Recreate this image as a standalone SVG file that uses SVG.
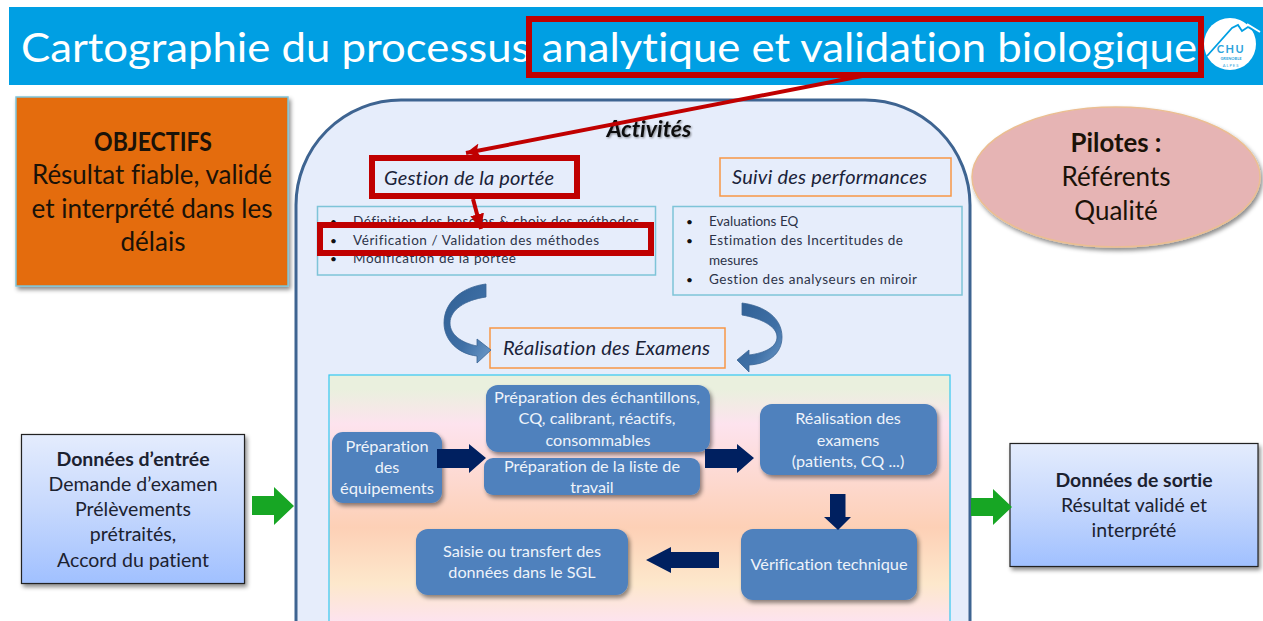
<svg xmlns="http://www.w3.org/2000/svg" width="1263" height="621" viewBox="0 0 1263 621">
<style>
text{font-family:"Lato","Carlito","Open Sans",sans-serif;fill:#111;font-variant-ligatures:none}
.title{font-size:41.500px;fill:#fff}
.big{font-size:26px;text-anchor:middle;fill:#1a1208}
.mid{font-size:19.500px;text-anchor:middle;fill:#1c2230}
.it{font-size:20px;font-style:italic;fill:#1a2238}
.li{font-size:13.500px;fill:#2c3348}
.bu{font-size:12px;fill:#111}
.wh{font-size:16.200px;text-anchor:middle;fill:#eef3fa}
.blue{fill:#4F81BD;filter:url(#sh)}
.navy{fill:#002060}
.green{fill:#17A624}
.org{fill:#E6EDFB;stroke:#F79646;stroke-width:1.5}
.cy{fill:#E6EDFB;stroke:#7EC4D8;stroke-width:1.5}
.red{fill:none;stroke:#C00000;stroke-width:6}
.curve{fill:url(#cv);stroke:#3A6494;stroke-width:.8}
.ln{stroke:#C00000;stroke-width:4;fill:none}
</style>
<defs>
<filter id="sh" x="-10%" y="-10%" width="125%" height="130%"><feDropShadow dx="2" dy="3" stdDeviation="2" flood-color="#000" flood-opacity=".45"/></filter>
<filter id="ts" x="-10%" y="-20%" width="120%" height="150%"><feDropShadow dx="1" dy="1" stdDeviation="1" flood-color="#000" flood-opacity=".45"/></filter>
<linearGradient id="box" x1="0" y1="0" x2="0" y2="1"><stop offset="0" stop-color="#E4ECFD"/><stop offset=".5" stop-color="#C6D8FD"/><stop offset="1" stop-color="#A0C0FF"/></linearGradient>
<linearGradient id="cv" x1="0" y1="0" x2="1" y2="1"><stop offset="0" stop-color="#2F5F94"/><stop offset=".6" stop-color="#3F70A6"/><stop offset="1" stop-color="#6F9CCB"/></linearGradient>
<linearGradient id="panel" x1="0" y1="375" x2="0" y2="621" gradientUnits="userSpaceOnUse"><stop offset="0" stop-color="#EAF0DE"/><stop offset=".06" stop-color="#EAF0DE"/><stop offset=".2" stop-color="#FDE3EE"/><stop offset=".62" stop-color="#FDD0B6"/><stop offset=".85" stop-color="#FDE8CC"/><stop offset="1" stop-color="#FDE3EE"/></linearGradient>
<marker id="hd" markerUnits="userSpaceOnUse" markerWidth="16" markerHeight="16" refX="14" refY="7" orient="auto"><path d="M0 0L14 7L0 14L3 7Z" fill="#C00000"/></marker>
<marker id="hd2" markerUnits="userSpaceOnUse" markerWidth="18" markerHeight="16" refX="15" refY="7" orient="auto"><path d="M0 0L15 7L0 14Z" fill="#C00000"/></marker>
</defs>

<g id="header">
<rect x="9" y="7" width="1254" height="78" fill="#009FE3"/>
<text class="title" x="21" y="62" textLength="1176" lengthAdjust="spacingAndGlyphs">Cartographie du processus analytique et validation biologique</text>
</g>
<g id="logo">
<circle cx="1230" cy="44" r="26" fill="#fff"/>
<path d="M1207 56L1232 28L1238 25L1242 31L1248 27L1258 33" fill="none" stroke="#009FE3" stroke-width="1.8"/>
<path d="M1247 24L1260 32" fill="none" stroke="#fff" stroke-width="2"/>
<text x="1231" y="53" font-size="11" font-weight="700" letter-spacing="1.5" text-anchor="middle" style="fill:#2CA3DC">CHU</text>
<text x="1231" y="60" font-size="4" font-weight="700" text-anchor="middle" style="fill:#2CA3DC">GRENOBLE</text>
<text x="1231" y="67" font-size="4" letter-spacing="1" text-anchor="middle" style="fill:#2CA3DC">ALPES</text>
</g>

<g id="objectifs">
<rect x="16" y="97" width="272" height="189" fill="#E46C0A" stroke="#7EC4D8" stroke-width="1.5" filter="url(#sh)"/>
<text class="big" x="153" y="151" font-weight="700" textLength="118" lengthAdjust="spacingAndGlyphs">OBJECTIFS</text>
<text class="big" x="152" y="184" textLength="240" lengthAdjust="spacingAndGlyphs">Résultat fiable, validé</text>
<text class="big" x="152" y="218" textLength="241" lengthAdjust="spacingAndGlyphs">et interprété dans les</text>
<text class="big" x="153" y="251">délais</text>
</g>

<g id="pilotes">
<ellipse cx="1116" cy="177" rx="144" ry="70" fill="#E6B4B4" stroke="#EBBE92" stroke-width="1.5" filter="url(#sh)"/>
<text class="big" x="1116" y="152" font-weight="700" textLength="91" lengthAdjust="spacingAndGlyphs">Pilotes :</text>
<text class="big" x="1116" y="186">Référents</text>
<text class="big" x="1116" y="220">Qualité</text>
</g>

<g id="activites">
<path d="M296 625V205A105 105 0 0 1 401 100H865A105 105 0 0 1 970 205V625" fill="#E6EDFB" stroke="#3E6491" stroke-width="3"/>
<text x="649" y="137" font-size="23" font-weight="700" font-style="italic" text-anchor="middle" filter="url(#ts)">Activités</text>
</g>

<g id="entree">
<rect x="21.500" y="434.500" width="223" height="149" fill="url(#box)" stroke="#222" stroke-width="1.2" filter="url(#sh)"/>
<text class="mid" x="133" y="466" font-weight="700">Données d’entrée</text>
<text class="mid" x="133" y="491">Demande d’examen</text>
<text class="mid" x="133" y="516">Prélèvements</text>
<text class="mid" x="133" y="541">prétraités,</text>
<text class="mid" x="133" y="567">Accord du patient</text>
</g>
<g id="sortie">
<rect x="1010" y="443.500" width="248" height="123" fill="url(#box)" stroke="#222" stroke-width="1.2" filter="url(#sh)"/>
<text class="mid" x="1134" y="487" font-weight="700" textLength="157" lengthAdjust="spacingAndGlyphs">Données de sortie</text>
<text class="mid" x="1134" y="512" textLength="146" lengthAdjust="spacingAndGlyphs">Résultat validé et</text>
<text class="mid" x="1134" y="537">interprété</text>
</g>

<g id="gestion-liste">
<rect x="317.500" y="206.500" width="338" height="68.500" class="cy"/>
<text class="bu" x="330" y="226">•</text>
<text class="li" x="353" y="226" textLength="286">Définition des besoins &amp; choix des méthodes</text>
<text class="bu" x="330" y="263">•</text>
<text class="li" x="353" y="263" textLength="163">Modification de la portée</text>
</g>
<g id="gestion-verif">
<rect x="320" y="225" width="331" height="28" fill="#E6EDFB" stroke="#C00000" stroke-width="6"/>
<text class="bu" x="330" y="245">•</text>
<text class="li" x="353" y="245" textLength="246">Vérification / Validation des méthodes</text>
</g>
<g id="gestion">
<rect x="372" y="158" width="205" height="38" class="red"/>
<text class="it" x="384" y="185" textLength="170">Gestion de la portée</text>
</g>
<g id="suivi">
<rect x="720" y="158" width="231" height="38" class="org"/>
<text class="it" x="732" y="184" textLength="195">Suivi des performances</text>
</g>
<g id="suivi-liste">
<rect x="673" y="206.500" width="289" height="88.500" class="cy"/>
<text class="bu" x="686" y="226">•</text><text class="li" x="709" y="226">Evaluations EQ</text>
<text class="bu" x="686" y="245">•</text><text class="li" x="709" y="245" textLength="194">Estimation des Incertitudes de</text>
<text class="li" x="709" y="265">mesures</text>
<text class="bu" x="686" y="284">•</text><text class="li" x="709" y="284" textLength="208">Gestion des analyseurs en miroir</text>
</g>
<g id="realisation">
<rect x="490" y="328" width="235" height="40" class="org"/>
<text class="it" x="503" y="355" textLength="207">Réalisation des Examens</text>
</g>

<g id="examens-panel">
<rect x="329" y="375" width="621" height="250" fill="url(#panel)" stroke="#33C8F0" stroke-width="1.2"/>
</g>
<g id="n-equip"><rect x="332" y="432" width="110" height="71" rx="11" class="blue"/>
<text class="wh" x="387" y="452" textLength="83" lengthAdjust="spacingAndGlyphs">Préparation</text><text class="wh" x="387" y="473">des</text><text class="wh" x="387" y="494" textLength="94" lengthAdjust="spacingAndGlyphs">équipements</text></g>
<g id="n-ech"><rect x="486" y="385" width="224" height="67" rx="12" class="blue"/>
<text class="wh" x="597" y="403" textLength="206" lengthAdjust="spacingAndGlyphs">Préparation des échantillons,</text><text class="wh" x="597" y="424" textLength="157" lengthAdjust="spacingAndGlyphs">CQ, calibrant, réactifs,</text><text class="wh" x="598" y="446">consommables</text></g>
<g id="n-liste"><rect x="484" y="458" width="216" height="37" rx="9" class="blue"/>
<text class="wh" x="592" y="472" textLength="176" lengthAdjust="spacingAndGlyphs">Préparation de la liste de</text><text class="wh" x="592" y="493">travail</text></g>
<g id="n-real"><rect x="760" y="404" width="177" height="71" rx="12" class="blue"/>
<text class="wh" x="848" y="424">Réalisation des</text><text class="wh" x="848" y="446">examens</text><text class="wh" x="848" y="467">(patients, CQ ...)</text></g>
<g id="n-verif"><rect x="741" y="529" width="176" height="71" rx="12" class="blue"/>
<text class="wh" x="829" y="570" textLength="157" lengthAdjust="spacingAndGlyphs">Vérification technique</text></g>
<g id="n-saisie"><rect x="416" y="529" width="212" height="66" rx="12" class="blue"/>
<text class="wh" x="522" y="557" textLength="158" lengthAdjust="spacingAndGlyphs">Saisie ou transfert des</text><text class="wh" x="522" y="578">données dans le SGL</text></g>

<g id="connecteurs">
<path class="green" d="M252 496H274V487L294 506L274 525V515H252Z"/>
<path class="green" d="M971 498H993V489L1012 507L993 525V516H971Z"/>
<path class="navy" d="M437 449H469V444L486 458L469 473V468H437Z"/>
<path class="navy" d="M705 449H737V444L754 458L737 473V468H705Z"/>
<path class="navy" d="M830 494H845.500V517H851L838 530L824 517H830Z"/>
<path class="navy" d="M719 552H671V547L646 560L671 573V568H719Z"/>
<path class="curve" d="M486 284C462 287 444 302 444 323C444 340 458 354 477 356V363L491 350L477 339V346C462 343 450 335 450 323C450 310 465 300 486 297Z"/>
<path class="curve" d="M742 303C765 306 782 318 782 337C782 354 768 364 749 365V372L737 360L749 350V355C765 353 777 347 777 337C777 326 760 318 742 315Z"/>
<path class="ln" d="M862 76L466 153" marker-end="url(#hd)"/>
<path class="ln" d="M473 199L481 229" marker-end="url(#hd2)" stroke-width="3.500"/>
</g>
<g id="surlignage">
<rect x="529" y="19" width="672" height="56" class="red"/>
</g>
</svg>
